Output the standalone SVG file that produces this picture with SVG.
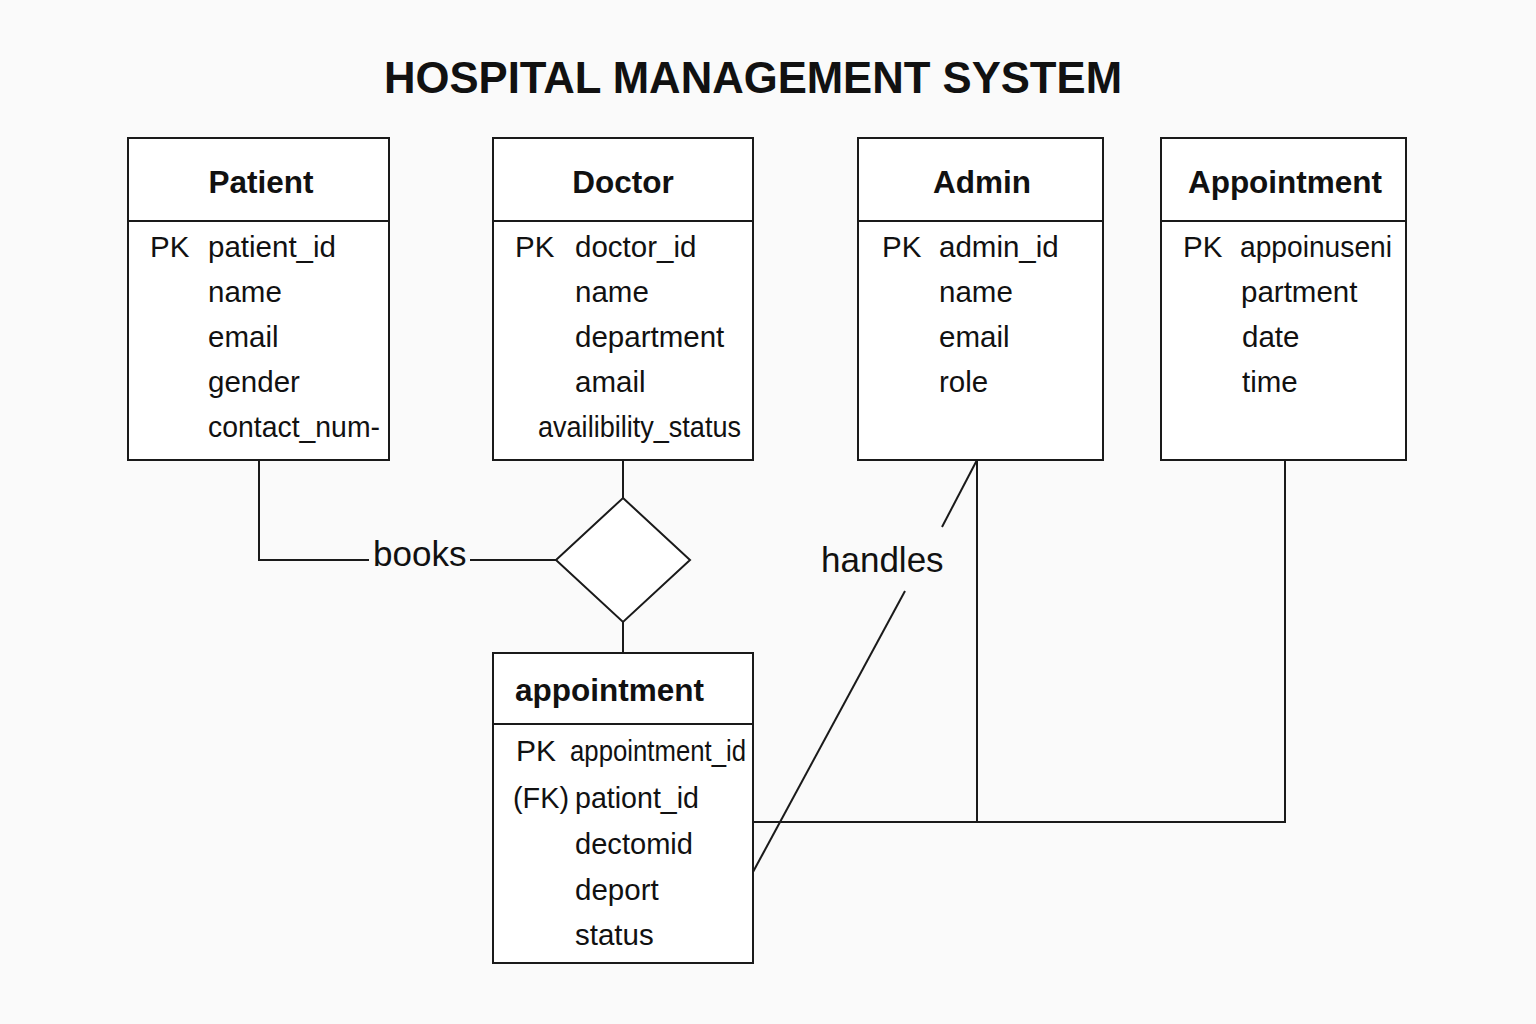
<svg xmlns="http://www.w3.org/2000/svg" width="1536" height="1024" viewBox="0 0 1536 1024">
<style>
.box{fill:#ffffff;stroke:#1a1a1a;stroke-width:2}
.ln{fill:none;stroke:#1a1a1a;stroke-width:2}
.t{font-family:"Liberation Sans",Arial,sans-serif;fill:#111}
.title{font-size:44px;font-weight:bold;text-anchor:middle}
.hd{font-size:31.5px;font-weight:bold;text-anchor:middle}
.at{font-size:29.5px}
.lbl{font-size:35px}
</style>
<rect width="1536" height="1024" fill="#fafafa"/>
<text class="t title" x="753" y="93" textLength="738" lengthAdjust="spacingAndGlyphs">HOSPITAL MANAGEMENT SYSTEM</text>

<g id="connectors">
<polyline class="ln" points="259,460 259,560 369,560"/>
<line class="ln" x1="470" y1="560" x2="556" y2="560"/>
<line class="ln" x1="623" y1="460" x2="623" y2="498"/>
<line class="ln" x1="623" y1="622" x2="623" y2="653"/>
<line class="ln" x1="977" y1="460" x2="942" y2="527"/>
<line class="ln" x1="905" y1="591" x2="753" y2="872"/>
<line class="ln" x1="977" y1="460" x2="977" y2="822"/>
<polyline class="ln" points="1285,460 1285,822 753,822"/>
<text class="t lbl" x="373" y="566">books</text>
<text class="t lbl" x="821" y="572">handles</text>
</g>

<g id="books">
<polygon class="box" points="623,498 690,560 623,622 556,560"/>
</g>

<g id="patient">
<rect class="box" x="128" y="138" width="261" height="322"/>
<line class="ln" x1="128" y1="221" x2="389" y2="221"/>
<text class="t hd" x="261" y="193">Patient</text>
<text class="t at" x="150" y="257">PK</text>
<text class="t at" x="208" y="257">patient_id</text>
<text class="t at" x="208" y="302">name</text>
<text class="t at" x="208" y="347">email</text>
<text class="t at" x="208" y="392">gender</text>
<text class="t at" x="208" y="437" textLength="172" lengthAdjust="spacingAndGlyphs">contact_num-</text>
</g>

<g id="doctor">
<rect class="box" x="493" y="138" width="260" height="322"/>
<line class="ln" x1="493" y1="221" x2="753" y2="221"/>
<text class="t hd" x="623" y="193">Doctor</text>
<text class="t at" x="515" y="257">PK</text>
<text class="t at" x="575" y="257">doctor_id</text>
<text class="t at" x="575" y="302">name</text>
<text class="t at" x="575" y="347">department</text>
<text class="t at" x="575" y="392">amail</text>
<text class="t at" x="538" y="437" textLength="203" lengthAdjust="spacingAndGlyphs">availibility_status</text>
</g>

<g id="admin">
<rect class="box" x="858" y="138" width="245" height="322"/>
<line class="ln" x1="858" y1="221" x2="1103" y2="221"/>
<text class="t hd" x="982" y="193">Admin</text>
<text class="t at" x="882" y="257">PK</text>
<text class="t at" x="939" y="257">admin_id</text>
<text class="t at" x="939" y="302">name</text>
<text class="t at" x="939" y="347">email</text>
<text class="t at" x="939" y="392">role</text>
</g>

<g id="appointment-entity">
<rect class="box" x="1161" y="138" width="245" height="322"/>
<line class="ln" x1="1161" y1="221" x2="1406" y2="221"/>
<text class="t hd" x="1285" y="193">Appointment</text>
<text class="t at" x="1183" y="257">PK</text>
<text class="t at" x="1240" y="257" textLength="152" lengthAdjust="spacingAndGlyphs">appoinuseni</text>
<text class="t at" x="1241" y="302">partment</text>
<text class="t at" x="1242" y="347">date</text>
<text class="t at" x="1242" y="392">time</text>
</g>

<g id="appointment">
<rect class="box" x="493" y="653" width="260" height="310"/>
<line class="ln" x1="493" y1="724" x2="753" y2="724"/>
<text class="t" x="515" y="701" font-size="31.5" font-weight="bold">appointment</text>
<text class="t" x="516" y="761" font-size="30">PK</text>
<text class="t at" x="570" y="761" textLength="176" lengthAdjust="spacingAndGlyphs">appointment_id</text>
<text class="t at" x="513" y="808" textLength="56" lengthAdjust="spacingAndGlyphs">(FK)</text>
<text class="t at" x="575" y="808" textLength="124" lengthAdjust="spacingAndGlyphs">pationt_id</text>
<text class="t at" x="575" y="854" textLength="118" lengthAdjust="spacingAndGlyphs">dectomid</text>
<text class="t at" x="575" y="900">deport</text>
<text class="t at" x="575" y="945">status</text>
</g>
</svg>
